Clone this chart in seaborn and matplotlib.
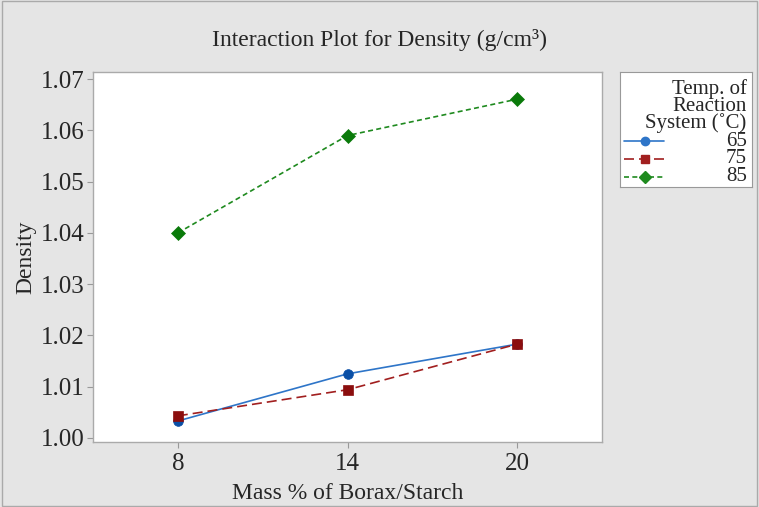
import seaborn as sns
import matplotlib.pyplot as plt
import pandas as pd

# values
mass = [8, 14, 20]
temps = ['65', '75', '85']
dens_65 = [1.0033, 1.0125, 1.0183]
dens_75 = [1.0043, 1.0094, 1.0183]
dens_85 = [1.0400, 1.0590, 1.0661]
y_ticks = [1.00, 1.01, 1.02, 1.03, 1.04, 1.05, 1.06, 1.07]

df = pd.DataFrame({
    'mass': mass * 3,
    'temp': [t for t in temps for _ in mass],
    'density': dens_65 + dens_75 + dens_85,
})

sns.set_style('white')
plt.rcParams['font.family'] = ['Liberation Serif', 'DejaVu Serif']

fig = plt.figure(figsize=(7.59, 5.07), dpi=100, facecolor='#e5e5e5')
ax = fig.add_axes([93 / 759, 1 - 442 / 507, 509 / 759, 370 / 507])

palette = {'65': '#2e75c8', '75': '#a11f1f', '85': '#1f8a1f'}
markers = {'65': 'o', '75': 's', '85': 'D'}
dashes = {'65': '', '75': (6, 3), '85': (3, 2)}
sns.lineplot(data=df, x='mass', y='density', hue='temp', style='temp',
             palette=palette, markers=markers, dashes=dashes, ax=ax,
             linewidth=1.2, markersize=7, markeredgewidth=0.5, legend=False)
for line, t in zip(ax.lines, temps):
    mk_col = {'65': '#0a4fa6', '75': '#8b0e0e', '85': '#0a7a0a'}[t]
    line.set_markerfacecolor(mk_col)
    line.set_markeredgecolor(mk_col)

ax.set_xlim(5, 23)
ax.set_ylim(0.9992, 1.0714)
ax.set_xticks(mass)
ax.set_yticks(y_ticks)
ax.set_yticklabels(['%.2f' % v for v in y_ticks])
ax.tick_params(axis='both', labelsize=18, length=4, color='#999999', direction='out',
               bottom=True, left=True, pad=2)
ax.tick_params(axis='x', pad=4)
for s in ax.spines.values():
    s.set_color('#aaaaaa')
    s.set_linewidth(1)
ax.set_xlabel('Mass % of Borax/Starch', fontsize=17, labelpad=6)
ax.set_ylabel('Density', fontsize=17, labelpad=3)
fig.text(0.5, 1 - 40 / 507, 'Interaction Plot for Density (g/cm³)', fontsize=17,
         ha='center', va='center')

# legend drawn as its own small axes to mimic the boxed, right-aligned layout
lax = fig.add_axes([620 / 759, 1 - 187 / 507, 132 / 759, 115 / 507])
lax.set_xlim(0, 1)
lax.set_ylim(0, 1)
lax.set_xticks([])
lax.set_yticks([])
for s in lax.spines.values():
    s.set_color('#999999')
lax.text(0.96, 0.94, 'Temp. of\nReaction\nSystem (˚C)', ha='right', va='top',
         fontsize=15, linespacing=0.85)
rows = [0.40, 0.245, 0.09]
for t, yy in zip(temps, rows):
    lax.plot([0.03, 0.33], [yy, yy], color=palette[t], lw=1.2,
             dashes=dashes[t] if dashes[t] else (None, None))
    lax.plot([0.19], [yy], marker=markers[t], color=palette[t], ms=6)
    lax.text(0.96, yy, t, ha='right', va='center', fontsize=15)

fig.patches.append(plt.Rectangle((0.002, 0.002), 0.996, 0.996, transform=fig.transFigure,
                                 fill=False, edgecolor='#aaaaaa', lw=1))
fig.savefig('out.png', dpi=100, facecolor=fig.get_facecolor())
